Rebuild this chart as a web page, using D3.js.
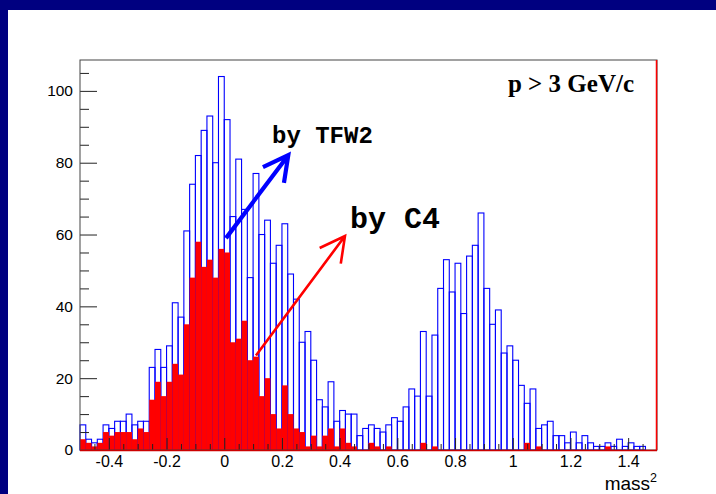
<!DOCTYPE html>
<html>
<head>
<meta charset="utf-8">
<script src="https://cdn.jsdelivr.net/npm/d3@7/dist/d3.min.js"></script>
<style>
body { margin: 0; background: #ffffff; overflow: hidden; }
</style>
</head>
<body>
<script>

// histogram range and bin width of mass^2
const histRange = [-0.5, 1.5]
const binWidth = 0.02

// entries per bin, identified by TFW2 (blue outline)
const tfw2Counts = [
    7, 3, 2, 3, 7, 6, 8, 8, 10, 7,
    8, 8, 23, 28, 23, 29, 41, 37, 61, 74,
    82, 89, 93, 80, 104, 92, 65, 81, 67, 48,
    77, 60, 64, 52, 57, 63, 49, 42, 30, 33,
    25, 14, 12, 19, 8, 11, 10, 10, 4, 6,
    7, 6, 5, 7, 9, 8, 12, 17, 15, 33,
    15, 32, 45, 53, 44, 52, 38, 54, 57, 66,
    45, 35, 39, 27, 29, 25, 18, 13, 17, 6,
    7, 8, 4, 4, 2, 5, 2, 4, 2, 1,
    1, 2, 1, 3, 1, 2, 1, 1, 0, 0
]

// entries per bin, identified by C4 (red fill)
const c4Counts = [
    3, 2, 1, 2, 5, 4, 5, 5, 5, 3,
    6, 5, 14, 19, 15, 19, 24, 21, 35, 48,
    58, 51, 53, 48, 56, 55, 30, 31, 36, 25,
    26, 15, 20, 10, 6, 18, 10, 6, 5, 1,
    4, 1, 4, 6, 1, 6, 2, 1, 0, 0,
    2, 1, 0, 1, 0, 0, 0, 0, 0, 2,
    0, 1, 0, 0, 0, 0, 0, 0, 0, 0,
    0, 0, 0, 0, 0, 0, 0, 2, 0, 1,
    0, 0, 0, 0, 0, 0, 0, 0, 0, 0,
    0, 1, 0, 0, 0, 0, 0, 0, 0, 0
]

const xTicks = [-0.4, -0.2, 0, 0.2, 0.4, 0.6, 0.8, 1, 1.2, 1.4]
const yTicks = [0, 20, 40, 60, 80, 100]
const yMax = 108.6

// arrows and labels, in data coordinates
const arrows = [
    {from: [0.006, 59], to: [0.222, 82.1], colour: '#0000ff', width: 4.2},
    {from: [0.110, 26.3], to: [0.4185, 59.6], colour: '#ff0000', width: 2.6}
]
const notes = [
    {text: 'by TFW2', at: [0.1655, 85.5], size: 24},
    {text: 'by C4', at: [0.436, 61.8], size: 30}
]

window.onload = function(){
    chart.setup()
    chart.drawHistograms()
    chart.drawAxes()
    chart.drawNotes()
}

class chart {

    static svg = {}
    static x = {}
    static y = {}
    static frame = {left: 80, right: 657, top: 60, bottom: 450}

    static setup(){
        this.svg = d3.select('body').append('svg')
            .attr('width', 716)
            .attr('height', 494)

        // navy slide border
        this.svg.append('rect').attr('width', 716).attr('height', 494).attr('fill', '#ffffff')
        this.svg.append('rect').attr('width', 716).attr('height', 10).attr('fill', '#000080')
        this.svg.append('rect').attr('width', 8).attr('height', 494).attr('fill', '#000080')

        this.x = d3.scaleLinear().domain(histRange).range([this.frame.left, this.frame.right])
        this.y = d3.scaleLinear().domain([0, yMax]).range([this.frame.bottom, this.frame.top])
    }

    static bins(counts){
        return counts.map((v, i) => ({lo: histRange[0] + i * binWidth, v: v}))
            .filter(d => d.v > 0)
    }

    static drawHistograms(){
        const x = this.x
        const y = this.y

        this.svg.append('g').attr('class', 'tfw2')
            .selectAll('rect')
            .data(this.bins(tfw2Counts))
            .join('rect')
            .attr('x', d => x(d.lo))
            .attr('y', d => y(d.v))
            .attr('width', d => x(d.lo + binWidth) - x(d.lo))
            .attr('height', d => y(0) - y(d.v))
            .attr('fill', 'none')
            .attr('stroke', '#0000ff')
            .attr('stroke-width', 1.1)

        this.svg.append('g').attr('class', 'c4')
            .selectAll('rect')
            .data(this.bins(c4Counts))
            .join('rect')
            .attr('x', d => x(d.lo))
            .attr('y', d => y(d.v))
            .attr('width', d => x(d.lo + binWidth) - x(d.lo))
            .attr('height', d => y(0) - y(d.v))
            .attr('fill', '#ff0000')
    }

    static drawAxes(){
        const f = this.frame
        const svg = this.svg

        const yMinor = d3.range(0, yMax, 5).filter(v => v % 20 !== 0)
        const xMinor = d3.range(-0.45, 1.5, 0.05).filter(v => Math.abs(Math.round(v * 5) - v * 5) > 1e-6)

        svg.append('g')
            .attr('class', 'yaxis')
            .attr('transform', d3Helper.translate(f.left, 0))
            .call(d3.axisLeft(this.y).tickValues(yTicks).tickSize(-17).tickPadding(7).tickFormat(d => d))
        svg.append('g')
            .attr('transform', d3Helper.translate(f.left, 0))
            .call(d3.axisLeft(this.y).tickValues(yMinor).tickSize(-9).tickFormat(''))

        svg.append('g')
            .attr('class', 'xaxis')
            .attr('transform', d3Helper.translate(0, f.bottom))
            .call(d3.axisBottom(this.x).tickValues(xTicks).tickSize(-12).tickPadding(6).tickFormat(d => String(d)))
        svg.append('g')
            .attr('transform', d3Helper.translate(0, f.bottom))
            .call(d3.axisBottom(this.x).tickValues(xMinor).tickSize(-6).tickFormat(''))

        svg.selectAll('.domain').remove()
        svg.selectAll('.tick line').attr('stroke', '#222222')
        svg.selectAll('.tick text')
            .attr('font-family', 'Liberation Sans, Arial, sans-serif')
            .attr('fill', '#000000')
        svg.selectAll('.yaxis .tick text').attr('font-size', 15.5)
        svg.selectAll('.xaxis .tick text').attr('font-size', 16)

        // frame
        svg.append('rect')
            .attr('x', f.left).attr('y', f.top)
            .attr('width', f.right - f.left).attr('height', f.bottom - f.top)
            .attr('fill', 'none')
            .attr('stroke', '#444444')
            .attr('stroke-width', 1)
        svg.append('line')
            .attr('x1', f.right - 0.5).attr('x2', f.right - 0.5)
            .attr('y1', f.top).attr('y2', f.bottom)
            .attr('stroke', '#ff0000').attr('stroke-width', 1.5)
        svg.append('line')
            .attr('x1', f.left).attr('x2', f.right)
            .attr('y1', f.bottom + 0.5).attr('y2', f.bottom + 0.5)
            .attr('stroke', '#cc0000').attr('stroke-width', 1.5)

        // axis title
        const title = svg.append('text')
            .attr('x', f.right)
            .attr('y', 490)
            .attr('text-anchor', 'end')
            .attr('font-family', 'Liberation Sans, Arial, sans-serif')
            .attr('font-size', 19)
        title.append('tspan').text('mass')
        title.append('tspan').text('2').attr('font-size', 12.5).attr('dy', -8)
    }

    static drawNotes(){
        const x = this.x
        const y = this.y
        const svg = this.svg

        arrows.forEach(a => {
            const x1 = x(a.from[0]), y1 = y(a.from[1])
            const x2 = x(a.to[0]), y2 = y(a.to[1])
            const ang = Math.atan2(y1 - y2, x1 - x2)
            const head = 28
            const spread = 28 * Math.PI / 180
            const p = d3.path()
            p.moveTo(x1, y1)
            p.lineTo(x2, y2)
            p.moveTo(x2 + head * Math.cos(ang + spread), y2 + head * Math.sin(ang + spread))
            p.lineTo(x2, y2)
            p.lineTo(x2 + head * Math.cos(ang - spread), y2 + head * Math.sin(ang - spread))
            svg.append('path')
                .attr('d', p.toString())
                .attr('fill', 'none')
                .attr('stroke', a.colour)
                .attr('stroke-width', a.width)
        })

        svg.selectAll('text.note')
            .data(notes)
            .join('text')
            .attr('class', 'note')
            .attr('x', d => x(d.at[0]))
            .attr('y', d => y(d.at[1]))
            .attr('font-family', 'Liberation Mono, Courier New, monospace')
            .attr('font-weight', 'bold')
            .attr('font-size', d => d.size)
            .text(d => d.text)

        svg.append('text')
            .attr('x', 634)
            .attr('y', 92)
            .attr('text-anchor', 'end')
            .attr('font-family', 'Liberation Serif, Times New Roman, serif')
            .attr('font-weight', 'bold')
            .attr('font-size', 25)
            .text('p > 3 GeV/c')
    }
}

class d3Helper {
    static translate(x, y){
        return 'translate(' + x + ',' + y + ')'
    }
}
</script>
</body>
</html>
